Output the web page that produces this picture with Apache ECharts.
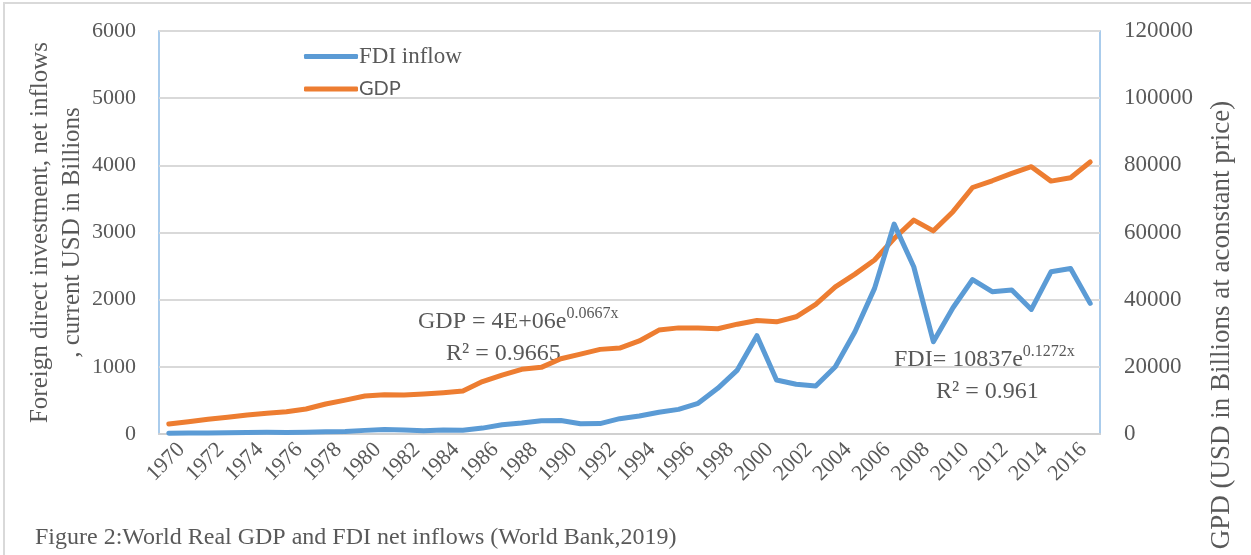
<!DOCTYPE html>
<html>
<head>
<meta charset="utf-8">
<script src="https://cdn.jsdelivr.net/npm/echarts@6/dist/echarts.min.js"></script>
<style>
  html, body { margin: 0; padding: 0; background: #fff; }
  #main { width: 1251px; height: 555px; }
</style>
</head>
<body>
<div id="main"></div>
<script>
// years 1970 - 2017
var years = [];
for (var y = 1970; y <= 2017; y++) years.push(String(y));

// FDI net inflows, current USD billions (left axis)
var fdiValues = [13, 14, 16, 20, 23, 25, 22, 26, 32, 38, 54, 68, 58, 50, 58, 56,
  88, 139, 164, 198, 200, 153, 155, 228, 268, 323, 367, 457, 680, 952, 1463,
  803, 740, 714, 1002, 1522, 2168, 3125, 2490, 1374, 1880, 2300, 2118, 2143,
  1855, 2415, 2465, 1945];

// World real GDP, billions at constant price (right axis)
var gdpValues = [2980, 3650, 4370, 5000, 5650, 6150, 6640, 7440, 8930, 10100,
  11300, 11700, 11600, 11900, 12300, 12800, 15600, 17560, 19250, 19850, 22400,
  23800, 25200, 25600, 27700, 30950, 31600, 31550, 31350, 32700, 33800, 33400,
  34900, 38600, 43800, 47600, 51800, 58200, 63700, 60500, 66200, 73400, 75400,
  77600, 79600, 75300, 76300, 81000];

var leftTicks = [0, 6000, 1000];
var rightTicks = [0, 120000, 20000];

var serif = "'Liberation Serif', 'DejaVu Serif', serif";
var textColor = "#595959";

var chartDom = document.getElementById("main");
var myChart = echarts.init(chartDom);
var option;

var plain = function (v) {
  return String(v);
};

option = {
  animation: false,
  grid: {
    left: 159,
    right: 151,
    top: 31,
    bottom: 121,
    show: true,
    borderColor: "#8FBCE6",
    borderWidth: 1.5,
  },
  legend: {
    orient: "vertical",
    left: 299,
    top: 40,
    itemWidth: 54,
    itemHeight: 5,
    itemGap: 11,
    icon: "roundRect",
    data: [
      { name: "FDI inflow", textStyle: { fontFamily: serif, fontSize: 23 } },
      { name: "GDP", textStyle: { fontFamily: "Lato, 'Open Sans', sans-serif", fontSize: 20 } },
    ],
    textStyle: { color: textColor, padding: [0, 0, 0, -4] },
  },
  xAxis: {
    type: "category",
    data: years,
    boundaryGap: true,
    axisLine: { lineStyle: { color: "#d0d0d0", width: 2 } },
    axisTick: { show: false },
    axisLabel: {
      interval: 1,
      rotate: 45,
      color: textColor,
      fontFamily: serif,
      fontSize: 22,
      margin: 25,
      padding: [0, -18, 0, 0],
    },
  },
  yAxis: [
    {
      type: "value",
      min: leftTicks[0],
      max: leftTicks[1],
      interval: leftTicks[2],
      name: "Foreign direct investment, net inflows\n, current USD in Billions",
      nameLocation: "middle",
      nameGap: 71,
      nameMoveOverlap: false,
      nameTextStyle: {
        color: textColor,
        fontFamily: serif,
        fontSize: 25,
        lineHeight: 32,
      },
      axisLine: { show: false },
      axisTick: { show: false },
      splitLine: { lineStyle: { color: "#d9d9d9", width: 2 } },
      axisLabel: { color: textColor, fontFamily: serif, fontSize: 22, margin: 23, formatter: plain },
    },
    {
      type: "value",
      min: rightTicks[0],
      max: rightTicks[1],
      interval: rightTicks[2],
      position: "right",
      axisLine: { show: false },
      axisTick: { show: false },
      splitLine: { show: false },
      axisLabel: { color: textColor, fontFamily: serif, fontSize: 23, margin: 24, formatter: plain },
    },
  ],
  series: [
    {
      name: "FDI inflow",
      type: "line",
      yAxisIndex: 0,
      data: fdiValues,
      symbol: "none",
      itemStyle: { color: "#5B9BD5" },
      lineStyle: { color: "#5B9BD5", width: 5, cap: "round", join: "round" },
      z: 3,
    },
    {
      name: "GDP",
      type: "line",
      yAxisIndex: 1,
      data: gdpValues,
      symbol: "none",
      itemStyle: { color: "#ED7D31" },
      lineStyle: { color: "#ED7D31", width: 5, cap: "round", join: "round" },
      z: 2,
    },
  ],
  graphic: [
    {
      type: "rect",
      shape: { x: 4, y: 3, width: 1400, height: 700 },
      style: { fill: "none", stroke: "#d9d9d9", lineWidth: 2 },
      silent: true,
    },
    {
      type: "text",
      x: 1222,
      y: 325,
      rotation: Math.PI / 2,
      style: {
        text: "GPD (USD in Billions at aconstant price)",
        fill: textColor,
        font: "27px " + serif,
        align: "center",
        verticalAlign: "middle",
      },
    },
    {
      type: "text",
      left: 35,
      top: 526,
      style: {
        text: "Figure 2:World Real GDP and FDI net inflows (World Bank,2019)",
        fill: textColor,
        font: "24px " + serif,
      },
    },
    {
      type: "text",
      left: 418,
      top: 306,
      style: {
        text: "{m|GDP = 4E+06e}{s|0.0667x}\n{b|R² = 0.9665}",
        fill: textColor,
        rich: {
          m: { fontFamily: serif, fontSize: 24, lineHeight: 32, fill: textColor },
          s: { fontFamily: serif, fontSize: 16, lineHeight: 18, fill: textColor, verticalAlign: "top" },
          b: { fontFamily: serif, fontSize: 24, lineHeight: 32, fill: textColor, padding: [0, 0, 0, 28] },
        },
      },
    },
    {
      type: "text",
      left: 894,
      top: 344,
      style: {
        text: "{m|FDI= 10837e}{s|0.1272x}\n{b|R² = 0.961}",
        fill: textColor,
        rich: {
          m: { fontFamily: serif, fontSize: 24, lineHeight: 32, fill: textColor },
          s: { fontFamily: serif, fontSize: 16, lineHeight: 18, fill: textColor, verticalAlign: "top" },
          b: { fontFamily: serif, fontSize: 24, lineHeight: 32, fill: textColor, padding: [0, 0, 0, 42] },
        },
      },
    },
  ],
};

option && myChart.setOption(option);
window.addEventListener("resize", function () {
  myChart.resize();
});
</script>
</body>
</html>
